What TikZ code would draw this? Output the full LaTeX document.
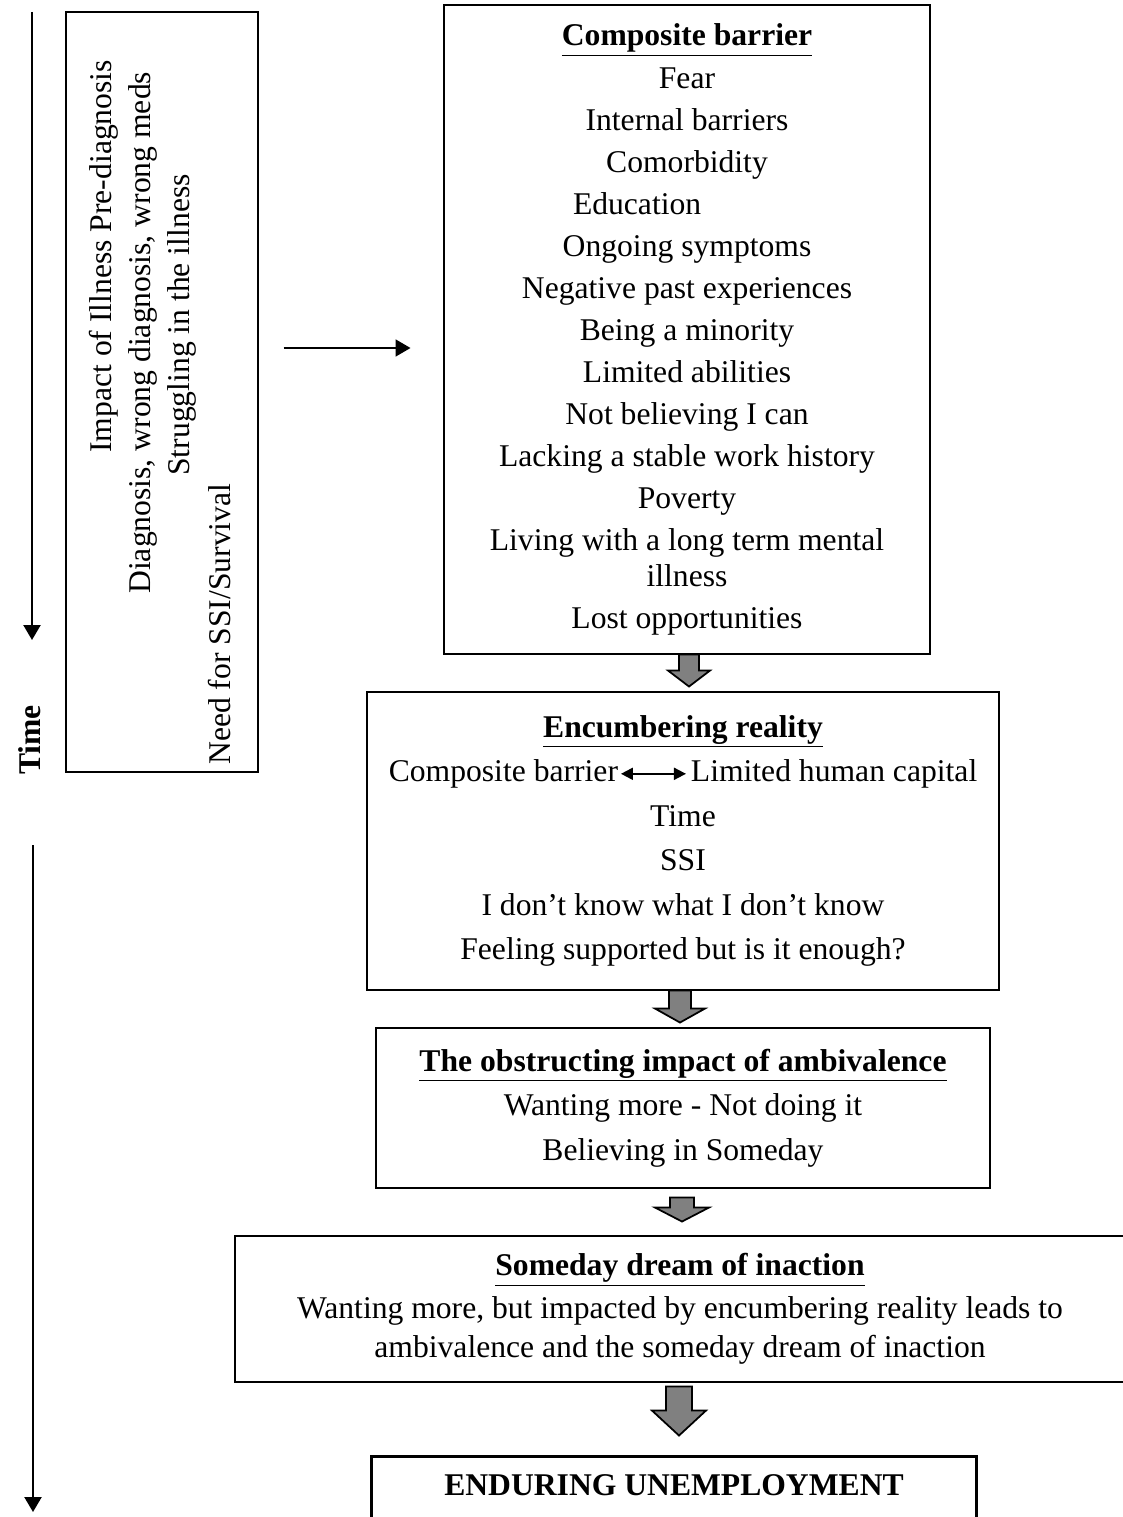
\documentclass[tikz,border=0pt]{standalone}
\usepackage{fontspec}
\setmainfont{Liberation Serif}
\usetikzlibrary{calc,arrows.meta}
\newlength\pu
\setlength\pu{0.02cm}
\tikzset{stagebox/.style={draw,line width=0.6pt,inner sep=0pt,align=center,
           font=\fontsize{18}{20.5}\selectfont},
         sidetext/.style={rotate=90,anchor=west,inner sep=0pt,
           font=\fontsize{18}{20.5}\selectfont},
         timearrow/.style={line width=1.3pt,-{Triangle[width=0.34cm,length=0.3cm]}},
         blockarr/.style={draw,line width=1pt,fill=gray,line join=miter}}
\newcommand\blockarrow[5]{\draw[blockarr] (#1) ++(-#2,0) -- ++(0,#4) -- ++({#2-#3},0)
  -- ++(#3,{#5-#4}) -- ++(#3,{#4-#5}) -- ++({#2-#3},0) -- ++(0,-#4) -- cycle;}
\newcommand\bothways{\tikz[baseline=-0.55ex]\draw[{Triangle[width=0.24cm,length=0.24cm]}-{Triangle[width=0.24cm,length=0.24cm]},line width=1.1pt] (0,0) -- (1.3cm,0);}
\begin{document}
\begin{tikzpicture}[x=0.02cm,y=-0.02cm]
\useasboundingbox (0,0) rectangle (1122,1517);
\coordinate (t1) at (32,12);
\coordinate (t2) at (32,640);
\coordinate (t3) at (33,845);
\coordinate (t4) at (33,1512);
\draw[timearrow] (t1) -- (t2);
\draw[timearrow] (t3) -- (t4);
\node[rotate=90,inner sep=0pt,font=\bfseries\fontsize{18}{20.5}\selectfont] (time) at (30,740) {Time};
\node[stagebox,minimum width=192*\pu,minimum height=760*\pu] (phases) at (162,392) {};
\node[sidetext] (impact) at (104,453) {Impact of Illness Pre-diagnosis};
\node[sidetext] (diag) at (143,594) {Diagnosis, wrong diagnosis, wrong meds};
\node[sidetext] (strug) at (182,476) {Struggling in the illness};
\node[sidetext] (need) at (220,765) {Need for SSI/Survival};
\node[stagebox,minimum width=486*\pu,minimum height=649*\pu] (comp) at (687,329.5)
 {\underline{\textbf{Composite barrier}}\\[6\pu]
  Fear\\[6\pu]
  Internal barriers\\[6\pu]
  Comorbidity\\[6\pu]
  \makebox[228\pu][l]{Education}\\[6\pu]
  Ongoing symptoms\\[6\pu]
  Negative past experiences\\[6\pu]
  Being a minority\\[6\pu]
  Limited abilities\\[6\pu]
  Not believing I can\\[6\pu]
  Lacking a stable work history\\[6\pu]
  Poverty\\[6\pu]
  Living with a long term mental\\
  illness\\[6\pu]
  Lost opportunities};
\node[stagebox,minimum width=632*\pu,minimum height=298*\pu] (enc) at (683,841)
 {\underline{\textbf{Encumbering reality}}\\[8.5\pu]
  Composite barrier\hspace{2\pu}\bothways\hspace{4\pu}Limited human capital\\[8.5\pu]
  Time\\[8.5\pu]
  SSI\\[8.5\pu]
  I don’t know what I don’t know\\[8.5\pu]
  Feeling supported but is it enough?};
\node[stagebox,minimum width=614*\pu,minimum height=160*\pu] (obs) at (683,1108)
 {\underline{\textbf{The obstructing impact of ambivalence}}\\[8.5\pu]
  Wanting more - Not doing it\\[8.5\pu]
  Believing in Someday};
\node[stagebox,minimum width=890*\pu,minimum height=146*\pu] (some) at (680,1309)
 {\underline{\textbf{Someday dream of inaction}}\\[7\pu]
  Wanting more, but impacted by encumbering reality leads to\\[3\pu]
  ambivalence and the someday dream of inaction};
\node[stagebox,line width=1.7pt,anchor=north,minimum width=12.1cm,
      text height=0.78cm,text depth=2cm] (endur) at (674,1455)
 {\textbf{ENDURING UNEMPLOYMENT}};
\draw[timearrow,line width=1pt] ($(phases.east)+(25,-44)$) -- ++(127,0);
\blockarrow{$(comp.south)+(2,0)$}{10}{21}{16}{32}
\blockarrow{$(enc.south)+(-3,0)$}{11}{25}{18}{32}
\blockarrow{$(obs.south)+(-1,9)$}{12}{27}{10}{24}
\blockarrow{$(some.south)+(-1,4)$}{13}{27}{24}{49}
\end{tikzpicture}
\end{document}
